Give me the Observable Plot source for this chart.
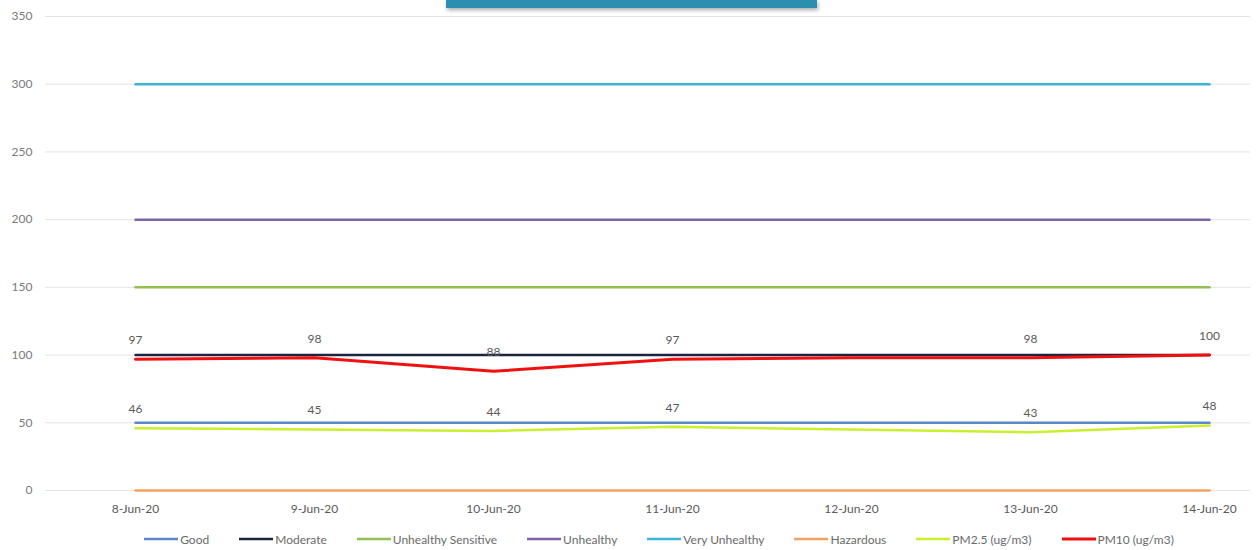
<!DOCTYPE html>
<html>
<head>
<meta charset="utf-8">
<script src="https://cdn.jsdelivr.net/npm/d3@7"></script>
<script src="https://cdn.jsdelivr.net/npm/@observablehq/plot@0.6"></script>
<style>
  body { margin: 0; background: #fff; font-family: Lato, "Open Sans", sans-serif; }
  #wrap { position: relative; width: 1258px; height: 550px; }
  #titlebar { position: absolute; left: 446px; top: 0; width: 371px; height: 8px; background: #2c8fb0; box-shadow: 1px 2px 4px rgba(0,0,0,0.35); }
  #legend { display: flex; justify-content: center; align-items: center; gap: 30px; height: 22px; font-size: 12px; color: #6a6a6a; padding-left: 60px; }
  .item { display: flex; align-items: center; gap: 2px; white-space: nowrap; }
</style>
</head>
<body>
<div id="wrap">
  <div id="chart"></div>
  <div id="legend"></div>
  <div id="titlebar"></div>
</div>
<script>
const dates = ["8-Jun-20", "9-Jun-20", "10-Jun-20", "11-Jun-20", "12-Jun-20", "13-Jun-20", "14-Jun-20"];
const seriesNames = ["Good", "Moderate", "Unhealthy Sensitive", "Unhealthy", "Very Unhealthy", "Hazardous", "PM2.5 (ug/m3)", "PM10 (ug/m3)"];
const seriesColors = ["#5b86c8", "#1c2340", "#92c050", "#7f62a8", "#3cb4d8", "#f4a060", "#c8f02c", "#f01010"];
const good = [50, 50, 50, 50, 50, 50, 50];
const moderate = [100, 100, 100, 100, 100, 100, 100];
const unhealthySensitive = [150, 150, 150, 150, 150, 150, 150];
const unhealthy = [200, 200, 200, 200, 200, 200, 200];
const veryUnhealthy = [300, 300, 300, 300, 300, 300, 300];
const hazardous = [0, 0, 0, 0, 0, 0, 0];
const pm25 = [46, 45, 44, 47, 45, 43, 48];
const pm10 = [97, 98, 88, 97, 98, 98, 100];
const unlabeledDates = ["12-Jun-20"];
const yTicks = [0, 50, 100, 150, 200, 250, 300, 350];

const seriesValues = [good, moderate, unhealthySensitive, unhealthy, veryUnhealthy, hazardous, pm25, pm10];
const rows = [];
seriesNames.forEach((name, s) => {
  dates.forEach((d, i) => rows.push({series: name, date: d, value: seriesValues[s][i]}));
});
const labelRows = rows.filter(r => (r.series === "PM2.5 (ug/m3)" || r.series === "PM10 (ug/m3)") && !unlabeledDates.includes(r.date));

const lineMarks = seriesNames.map(name =>
  Plot.line(rows.filter(r => r.series === name), {
    x: "date", y: "value", stroke: "series",
    strokeWidth: name === "PM10 (ug/m3)" ? 3 : 2.5
  })
);

const chart = Plot.plot({
  width: 1258,
  height: 528,
  marginTop: 16,
  marginBottom: 38,
  marginLeft: 45,
  marginRight: 8,
  style: {fontFamily: "Lato, 'Open Sans', sans-serif", fontSize: "12px", color: "#595959", background: "#fff"},
  x: {type: "point", domain: dates, insetLeft: 89, insetRight: 41, padding: 0, label: null},
  y: {domain: [0, 350], label: null},
  color: {domain: seriesNames, range: seriesColors},
  marks: [
    Plot.ruleY(yTicks, {stroke: "#e3e3e3", strokeWidth: 1}),
    ...lineMarks,
    Plot.text(labelRows, {x: "date", y: "value", text: d => String(d.value), dy: -19, fill: "#595959", fontSize: 12}),
    Plot.axisY({ticks: yTicks, tickSize: 0, tickPadding: 13, label: null, color: "#7a7a7a"}),
    Plot.axisX({tickSize: 0, tickPadding: 14, label: null})
  ]
});
document.getElementById("chart").appendChild(chart);

const legend = document.getElementById("legend");
seriesNames.forEach((name, i) => {
  const item = document.createElement("div");
  item.className = "item";
  item.innerHTML = `<svg width="34" height="6"><line x1="0" y1="3" x2="34" y2="3" stroke="${seriesColors[i]}" stroke-width="${i === 7 ? 3 : 2.5}"/></svg><span>${name}</span>`;
  legend.appendChild(item);
});
</script>
</body>
</html>
